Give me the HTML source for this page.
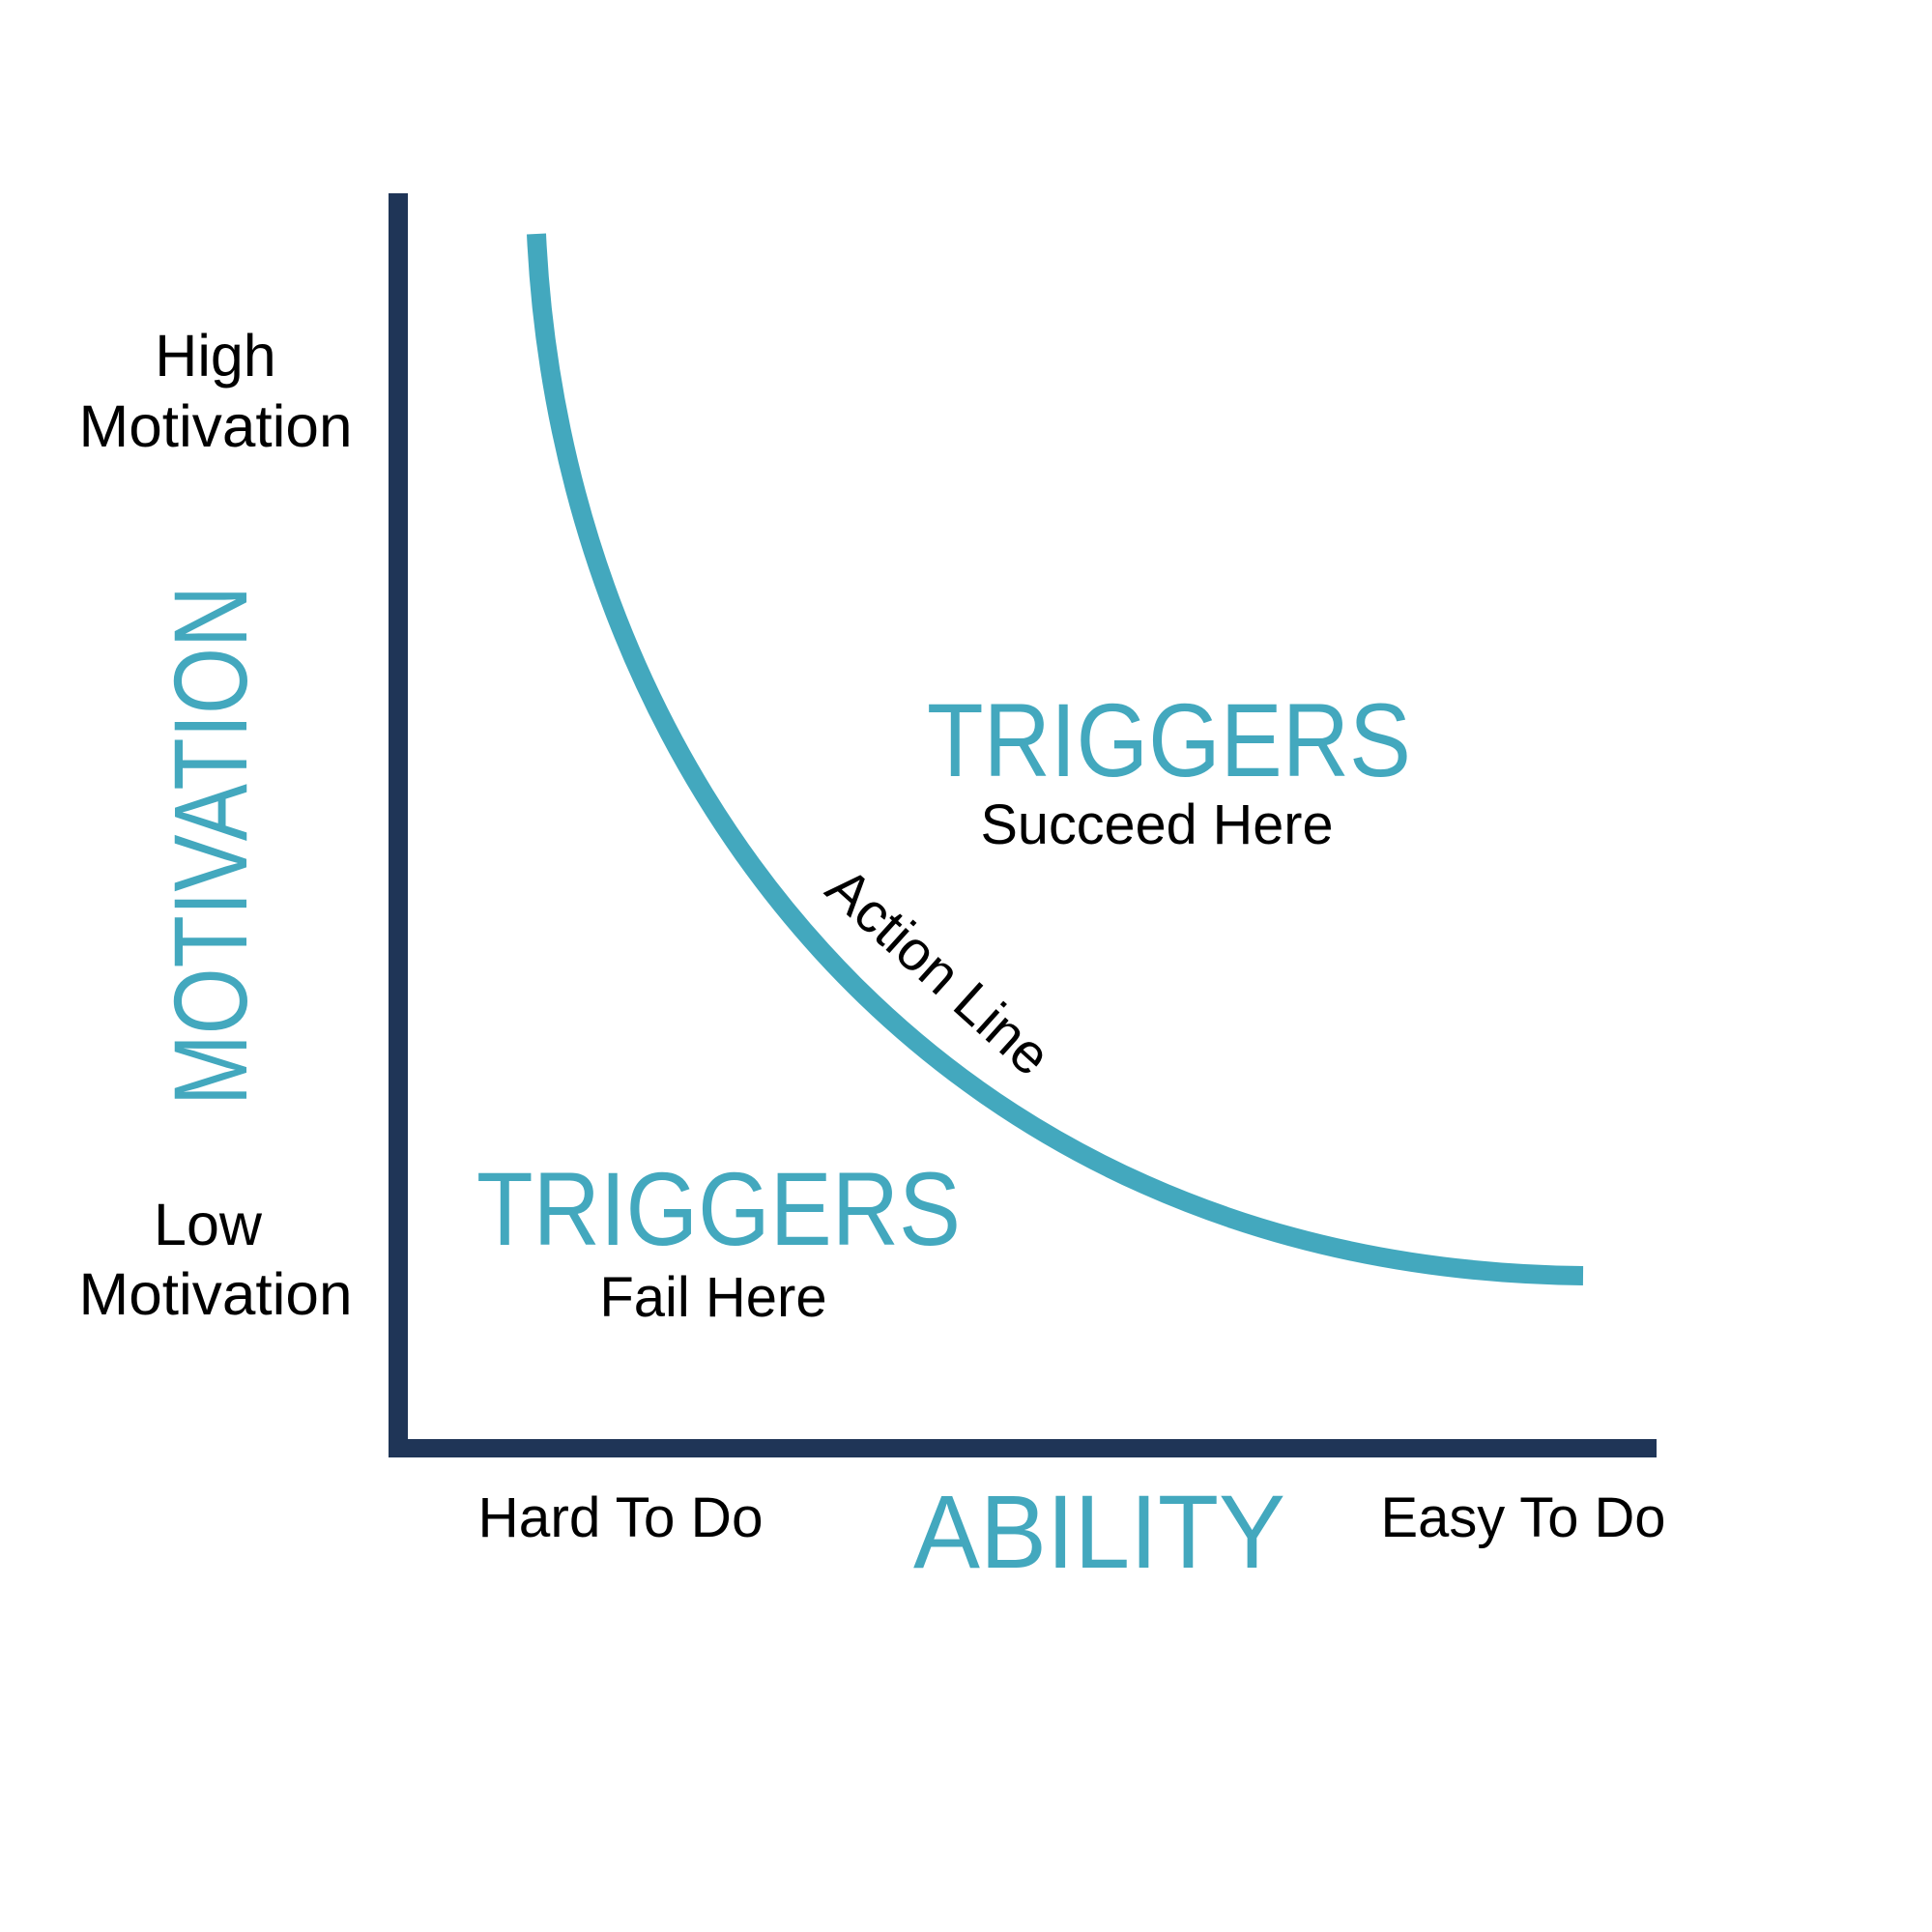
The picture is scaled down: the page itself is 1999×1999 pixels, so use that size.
<!DOCTYPE html>
<html><head><meta charset="utf-8"><style>
html,body{margin:0;padding:0;background:#fff;}
svg{display:block;}
text{font-family:"Liberation Sans",sans-serif;}
</style></head><body>
<svg width="1999" height="1999" viewBox="0 0 1999 1999" xmlns="http://www.w3.org/2000/svg">
<rect width="1999" height="1999" fill="#fff"/>
<rect x="402" y="200" width="20" height="1308" fill="#1F3557"/>
<rect x="402" y="1489" width="1312" height="19" fill="#1F3557"/>
<path d="M555,242 C580,790 956,1313 1638,1320" fill="none" stroke="#43A8BE" stroke-width="20"/>
<g fill="#000" font-size="58" text-anchor="middle">
<text x="223" y="389" font-size="61">High</text>
<text x="223" y="462" font-size="61" textLength="283" lengthAdjust="spacingAndGlyphs">Motivation</text>
<text x="215" y="1288" font-size="61">Low</text>
<text x="223" y="1360" font-size="61" textLength="283" lengthAdjust="spacingAndGlyphs">Motivation</text>
<text x="1197" y="873" textLength="365" lengthAdjust="spacingAndGlyphs">Succeed Here</text>
<text x="738" y="1362">Fail Here</text>
<text x="642" y="1590" textLength="295" lengthAdjust="spacingAndGlyphs">Hard To Do</text>
<text x="1576" y="1590" textLength="295" lengthAdjust="spacingAndGlyphs">Easy To Do</text>
<text transform="translate(958,1020) rotate(42)" x="0" y="0">Action Line</text>
</g>
<g fill="#43A8BE" font-size="108">
<text x="959" y="803" textLength="501" lengthAdjust="spacingAndGlyphs">TRIGGERS</text>
<text x="493" y="1288" textLength="501" lengthAdjust="spacingAndGlyphs">TRIGGERS</text>
<text x="945" y="1622" textLength="385" lengthAdjust="spacingAndGlyphs">ABILITY</text>
<text transform="translate(255,1144) rotate(-90)" x="0" y="0" textLength="538" lengthAdjust="spacingAndGlyphs">MOTIVATION</text>
</g>
</svg>
</body></html>
